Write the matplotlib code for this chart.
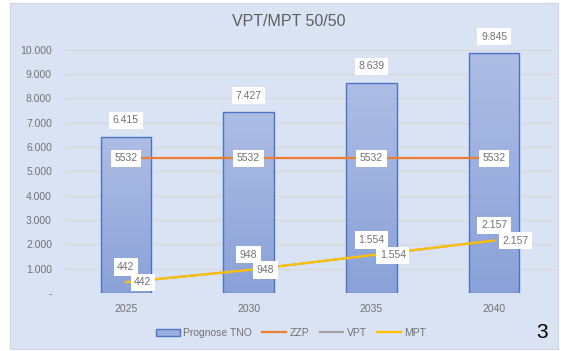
import numpy as np
import matplotlib.pyplot as plt
from matplotlib.patches import Rectangle
from matplotlib.colors import LinearSegmentedColormap

# data
years = ["2025", "2030", "2035", "2040"]
prognose_tno = [6415, 7427, 8639, 9845]
zzp = [5532, 5532, 5532, 5532]
vpt = [442, 948, 1554, 2157]
mpt = [442, 948, 1554, 2157]
y_ticks = [0, 1000, 2000, 3000, 4000, 5000, 6000, 7000, 8000, 9000, 10000]


def fmt(v):
    # dutch thousands separator, dash for zero
    if v == 0:
        return "-"
    return f"{v:,.0f}".replace(",", ".")


plt.rcParams['font.family'] = ['Liberation Sans', 'DejaVu Sans']
TXT = "#727272"

fig = plt.figure(figsize=(5.61, 3.51), dpi=100)
fig.patch.set_facecolor("white")

# chart panel
W, H = 561, 351
panel = Rectangle((10 / W, 2 / H), 548 / W, 346 / H, transform=fig.transFigure,
                  facecolor="#dae3f3", edgecolor="#cfd5de", lw=0.8, zorder=-10)
fig.patches.append(panel)

ax = fig.add_axes([64.5 / W, 58 / H, 491 / W, 243.3 / H])
ax.set_facecolor("none")

x = np.arange(len(years))
bars = ax.bar(x, prognose_tno, width=0.41, color="#9aafdf", edgecolor="#4a74c4",
              linewidth=1.0, zorder=2)

# vertical gradient inside each bar
cmap = LinearSegmentedColormap.from_list("barfill", ["#8aa2d8", "#aebde4"])
grad = np.linspace(0, 1, 256).reshape(-1, 1)
for b in bars:
    x0, y0 = b.get_x(), b.get_y()
    w, h = b.get_width(), b.get_height()
    im = ax.imshow(grad, cmap=cmap, origin="lower", aspect="auto",
                   extent=(x0, x0 + w, y0, y0 + h), zorder=2)
    im.set_clip_path(b)
    b.set_facecolor("none")
    b.set_zorder(3)

ax.plot(x, zzp, color="#ed7d31", lw=1.6, zorder=4)
ax.plot(x, vpt, color="#a5a5a5", lw=1.6, zorder=4)
ax.plot(x, mpt, color="#ffc000", lw=1.6, zorder=5)

box = dict(boxstyle="square,pad=0.35", facecolor="white", edgecolor="none")
lbl = dict(fontsize=7.5, color=TXT, bbox=box, zorder=6)

for xi, v in zip(x, prognose_tno):
    ax.annotate(fmt(v), (xi, v), xytext=(0, 12), textcoords="offset points",
                ha="center", va="center", **lbl)
for xi, v in zip(x, zzp):
    ax.annotate(str(v), (xi, v), ha="center", va="center", **lbl)
for xi, v in zip(x, vpt):
    ax.annotate(fmt(v), (xi, v), xytext=(0, 11), textcoords="offset points",
                ha="center", va="center", **lbl)
for xi, v in zip(x, mpt):
    ax.annotate(fmt(v), (xi, v), xytext=(6, 0), textcoords="offset points",
                ha="left", va="center", **lbl)

ax.set_xlim(-0.5, len(years) - 0.5)
ax.set_ylim(0, 10000)
ax.set_yticks(y_ticks)
ax.set_yticklabels([fmt(t) for t in y_ticks])
ax.set_xticks(x)
ax.set_xticklabels(years)
ax.tick_params(length=0, labelsize=7.5, labelcolor=TXT)
ax.tick_params(axis="y", pad=9)
ax.tick_params(axis="x", pad=8)
ax.grid(axis="y", color="#d9d9d9", lw=0.9, zorder=1)
ax.set_axisbelow(True)
for s in ax.spines.values():
    s.set_visible(False)

fig.text(289 / W, 1 - 22 / H, "VPT/MPT 50/50", ha="center", va="center",
         fontsize=11.5, color="#5f5f5f")

leg_bar = Rectangle((0, 0), 1, 1, facecolor="#9aafdf", edgecolor="#4a74c4", lw=1.0)
handles = [leg_bar,
           plt.Line2D([], [], color="#ed7d31", lw=1.6),
           plt.Line2D([], [], color="#a5a5a5", lw=1.6),
           plt.Line2D([], [], color="#ffc000", lw=1.6)]
fig.legend(handles, ["Prognose TNO", "ZZP", "VPT", "MPT"], loc="center",
           bbox_to_anchor=(291 / W, 1 - 333 / H), ncol=4, frameon=False,
           fontsize=7.5, labelcolor=TXT, handlelength=2.3,
           handletextpad=0.3, columnspacing=1.0)

fig.text(542 / W, 1 - 333 / H, "3", ha="center", va="center", fontsize=15,
         color="black")

fig.savefig("out.png", dpi=100)
